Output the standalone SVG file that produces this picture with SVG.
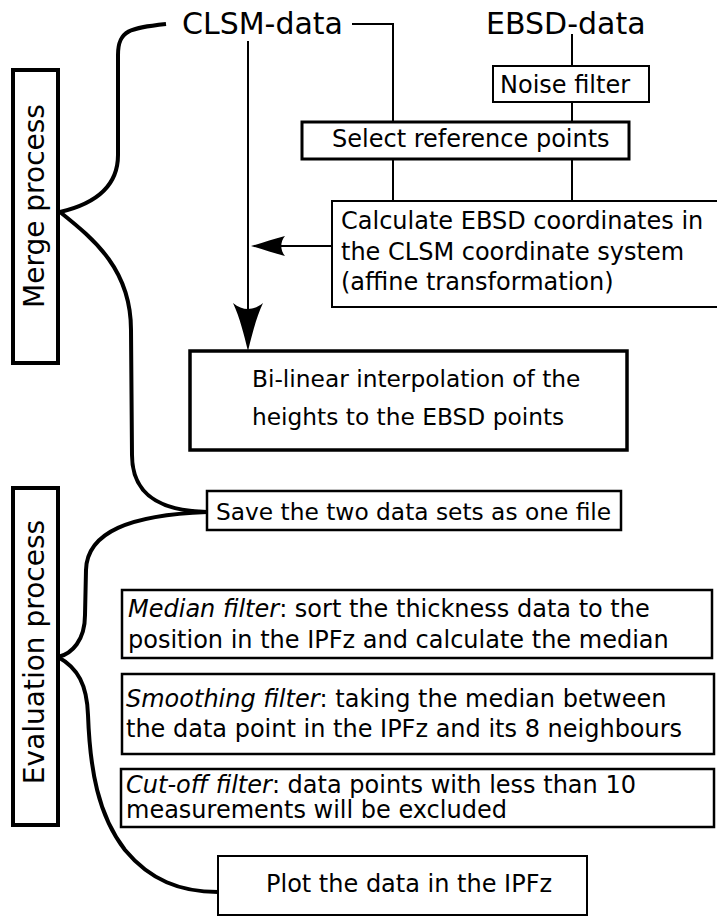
<svg xmlns="http://www.w3.org/2000/svg" width="717" height="921" viewBox="0 0 717 921">
<style>
text{font-family:"DejaVu Sans","Liberation Sans",sans-serif;fill:#000}
.t24{font-size:24px}
.t23{font-size:23.3px}
.big{font-size:30px}
.side{font-size:28px}
.box{fill:#fff;stroke:#000}
.ln{fill:none;stroke:#000;stroke-width:2}
.brace{fill:none;stroke:#000;stroke-width:4}
.it{font-style:italic}
</style>
<rect width="717" height="921" fill="#fff"/>
<g id="connectors">
  <path class="ln" d="M352,24 H393 V122"/>
  <path class="ln" d="M393,159 V201"/>
  <path class="ln" d="M572,34 V66"/>
  <path class="ln" d="M572,102 V122"/>
  <path class="ln" d="M572,159 V201"/>
  <path class="ln" d="M248,41 V310"/>
  <path d="M248,351 C244,335 240,318 233,303 C243,311 253,311 263,303 C256,318 252,335 248,351 Z" fill="#000"/>
  <path class="ln" d="M332,246 H262"/>
  <path d="M251,246 C262,243 273,239 285,236 C280,242 280,250 285,256 C273,253 262,249 251,246 Z" fill="#000"/>
  <path class="brace" d="M166,24 C130,28 118,30 118,55 L118,155 C118,190 90,205 60,212"/>
  <path class="brace" d="M60,212 C95,240 131,270 131,330 L132,455 C132,495 160,511 207,512"/>
  <path class="brace" d="M207,512 C130,515 87,532 86,570 L85,615 C85,640 72,654 58,657"/>
  <path class="brace" d="M58,657 C78,668 87,685 88,715 C90,770 98,815 125,850 C150,880 180,892 218,892"/>
</g>
<g id="merge-label">
  <rect class="box" x="13" y="70" width="45" height="293" stroke-width="4"/>
  <text class="side" text-anchor="middle" transform="translate(44,206) rotate(-90)">Merge process</text>
</g>
<g id="eval-label">
  <rect class="box" x="13" y="488" width="45" height="337" stroke-width="4"/>
  <text class="side" text-anchor="middle" transform="translate(44,652) rotate(-90)">Evaluation process</text>
</g>
<g id="clsm">
  <text class="big" x="182" y="34">CLSM-data</text>
</g>
<g id="ebsd">
  <text class="big" x="486" y="34">EBSD-data</text>
</g>
<g id="noise">
  <rect class="box" x="493" y="66" width="156" height="36" stroke-width="2"/>
  <text class="t24" x="500" y="93">Noise filter</text>
</g>
<g id="select">
  <rect class="box" x="302" y="122" width="327" height="37" stroke-width="3"/>
  <text class="t24" x="332" y="147">Select reference points</text>
</g>
<g id="calculate">
  <rect class="box" x="332" y="201" width="390" height="106" stroke-width="2"/>
  <text class="t24" x="341" y="229">Calculate EBSD coordinates in</text>
  <text class="t24" x="341" y="260">the CLSM coordinate system</text>
  <text class="t24" x="341" y="290">(affine transformation)</text>
</g>
<g id="bilinear">
  <rect class="box" x="190" y="351" width="437" height="99" stroke-width="3.5"/>
  <text class="t23" x="252" y="387">Bi-linear interpolation of the</text>
  <text class="t23" x="252" y="425">heights to the EBSD points</text>
</g>
<g id="save">
  <rect class="box" x="207" y="491" width="414" height="39" stroke-width="2.5"/>
  <text class="t23" x="216" y="520">Save the two data sets as one file</text>
</g>
<g id="median">
  <rect class="box" x="122" y="590" width="590" height="68" stroke-width="2.5"/>
  <text class="t24" x="128" y="617"><tspan class="it">Median filter</tspan>: sort the thickness data to the</text>
  <text class="t24" x="128" y="648">position in the IPFz and calculate the median</text>
</g>
<g id="smoothing">
  <rect class="box" x="122" y="674" width="592" height="80" stroke-width="2.5"/>
  <text class="t24" x="126" y="707"><tspan class="it">Smoothing filter</tspan>: taking the median between</text>
  <text class="t24" x="126" y="737">the data point in the IPFz and its 8 neighbours</text>
</g>
<g id="cutoff">
  <rect class="box" x="121" y="769" width="593" height="58" stroke-width="2.5"/>
  <text class="t24" x="126" y="793"><tspan class="it">Cut-off filter</tspan>: data points with less than 10</text>
  <text class="t24" x="126" y="818">measurements will be excluded</text>
</g>
<g id="plot">
  <rect class="box" x="218" y="856" width="369" height="59" stroke-width="2"/>
  <text class="t24" x="266" y="892">Plot the data in the IPFz</text>
</g>
</svg>
